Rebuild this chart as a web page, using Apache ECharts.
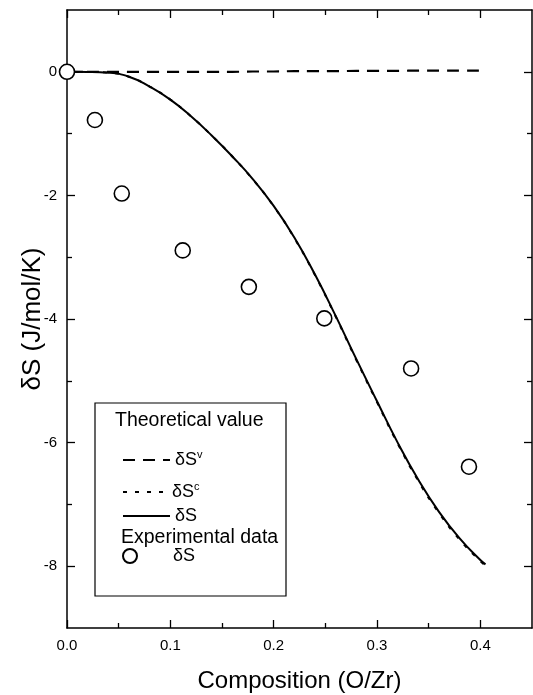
<!DOCTYPE html>
<html>
<head>
<meta charset="utf-8">
<script src="https://cdn.jsdelivr.net/npm/echarts@6/dist/echarts.min.js"></script>
<style>
html,body{margin:0;padding:0;background:#fff;}
#chart{width:533px;height:695px;}
</style>
</head>
<body>
<div id="chart"></div>
<script>
// ---- data ----
const compTheory = [0, 0.02, 0.04, 0.06, 0.08, 0.10, 0.12, 0.14, 0.16, 0.18, 0.20, 0.22, 0.24, 0.26, 0.28, 0.30, 0.32, 0.34, 0.36, 0.38, 0.40, 0.405];
const dSTotal   = [0, -0.002, -0.015, -0.08, -0.24, -0.45, -0.72, -1.03, -1.37, -1.74, -2.17, -2.68, -3.28, -3.95, -4.65, -5.33, -6.0, -6.6, -7.12, -7.55, -7.9, -7.97];
const dSConfig  = [0, -0.002, -0.015, -0.08, -0.24, -0.45, -0.72, -1.03, -1.37, -1.745, -2.175, -2.69, -3.29, -3.96, -4.665, -5.345, -6.015, -6.62, -7.14, -7.57, -7.92, -7.99];
const dSVib     = [0, 0, 0, 0, 0, 0, 0, 0, 0, 0.005, 0.005, 0.01, 0.01, 0.01, 0.015, 0.015, 0.015, 0.02, 0.02, 0.02, 0.02, 0.02];
const compExp   = [0, 0.027, 0.053, 0.112, 0.176, 0.249, 0.333, 0.389];
const dSExp     = [0, -0.78, -1.97, -2.89, -3.48, -3.99, -4.80, -6.39];
const xMajorTicks = [0, 0.1, 0.2, 0.3, 0.4];
const xMinorTicks = [0.05, 0.15, 0.25, 0.35];
const yMajorTicks = [0, -2, -4, -6, -8];
const yMinorTicks = [-1, -3, -5, -7];
const xTitle = 'Composition (O/Zr)';
const yTitle = 'δS (J/mol/K)';

const FONT = '"Liberation Sans", Arial, Helvetica, sans-serif';
const pair = (xs, ys) => xs.map((x, i) => [x, ys[i]]);

const chart = echarts.init(document.getElementById('chart'), null, {renderer: 'canvas'});

function xAx(pos, ticks, len, labels) {
  return {
    type: 'value', position: pos, min: 0, max: 0.45,
    axisLine: {show: ticks === xMajorTicks, onZero: false, lineStyle: {color: '#000', width: 1.5}},
    axisTick: {show: true, inside: true, length: len, customValues: ticks, lineStyle: {color: '#000', width: 1.3}},
    axisLabel: labels ? {show: true, customValues: xMajorTicks, formatter: v => v.toFixed(1), color: '#000', fontSize: 15, fontFamily: FONT, margin: 10} : {show: false},
    splitLine: {show: false},
    name: labels ? xTitle : '',
    nameLocation: 'middle', nameGap: 41, nameMoveOverlap: false,
    nameTextStyle: {fontSize: 24, color: '#000', fontFamily: FONT}
  };
}
function yAx(pos, ticks, len, labels) {
  return {
    type: 'value', position: pos, min: -9, max: 1,
    axisLine: {show: ticks === yMajorTicks, onZero: false, lineStyle: {color: '#000', width: 1.5}},
    axisTick: {show: true, inside: true, length: len, customValues: ticks, lineStyle: {color: '#000', width: 1.3}},
    axisLabel: labels ? {show: true, customValues: yMajorTicks, formatter: v => String(v), color: '#000', fontSize: 15, fontFamily: FONT, margin: 10} : {show: false},
    splitLine: {show: false},
    name: labels ? yTitle : '',
    nameLocation: 'middle', nameGap: 21, nameMoveOverlap: false,
    nameTextStyle: {fontSize: 26, color: '#000', fontFamily: FONT}
  };
}

const nameMap = {
  dSv: '{m|δS}{s|v}',
  dSc: '{m|δS}{s|c}',
  dS: '{m|δS}',
  dSexp: '{p|δS}'
};
const rich = {
  m: {fontSize: 18, fontFamily: FONT, color: '#000', lineHeight: 22},
  s: {fontSize: 11, fontFamily: FONT, color: '#000', lineHeight: 12, verticalAlign: 'top'},
  p: {fontSize: 18, fontFamily: FONT, color: '#000', lineHeight: 22, padding: [0, 0, 0, 31]}
};
function lg(name, left, top, w, hideSymbol) {
  const o = {
    data: [name], left: left, top: top, orient: 'vertical',
    itemWidth: w, itemHeight: 14, itemGap: 0, padding: 0,
    selectedMode: false,
    formatter: n => nameMap[n],
    textStyle: {rich: rich, color: '#000'}
  };
  if (hideSymbol) o.itemStyle = {opacity: 0};
  return o;
}

chart.setOption({
  animation: false,
  backgroundColor: '#fff',
  grid: {left: 67, right: 1, top: 10, bottom: 67, containLabel: false, outerBoundsMode: 'none'},
  xAxis: [xAx('bottom', xMajorTicks, 8, true), xAx('bottom', xMinorTicks, 5, false), xAx('top', xMajorTicks, 8, false), xAx('top', xMinorTicks, 5, false)],
  yAxis: [yAx('left', yMajorTicks, 8, true), yAx('left', yMinorTicks, 5, false), yAx('right', yMajorTicks, 8, false), yAx('right', yMinorTicks, 5, false)],
  legend: [
    lg('dSv', 122, 449, 47, true),
    lg('dSc', 122, 481, 44, true),
    lg('dS', 122, 507, 47, true),
    lg('dSexp', 122, 547, 14, false)
  ],
  graphic: [
    {type: 'rect', shape: {x: 95, y: 403, width: 191, height: 193}, style: {fill: 'none', stroke: '#000', lineWidth: 1.2}, z: 10},
    {type: 'text', left: 115, top: 411, style: {text: 'Theoretical value', fontSize: 19.5, fontFamily: FONT, fill: '#000'}, z: 10},
    {type: 'text', left: 121, top: 528, style: {text: 'Experimental data', fontSize: 19.5, fontFamily: FONT, fill: '#000'}, z: 10}
  ],
  series: [
    {name: 'dSv', type: 'line', data: pair(compTheory, dSVib), symbol: 'none', smooth: true,
     itemStyle: {color: '#000'}, lineStyle: {color: '#000', width: 2.2, type: [12, 8]}, z: 3},
    {name: 'dSc', type: 'line', data: pair(compTheory, dSConfig), symbol: 'none', smooth: true,
     itemStyle: {color: '#000'}, lineStyle: {color: '#000', width: 2, type: [4, 8]}, z: 2},
    {name: 'dS', type: 'line', data: pair(compTheory, dSTotal), symbol: 'none', smooth: true,
     itemStyle: {color: '#000'}, lineStyle: {color: '#000', width: 2}, z: 4},
    {name: 'dSexp', type: 'scatter', data: pair(compExp, dSExp), symbol: 'circle', symbolSize: 15,
     itemStyle: {color: '#fff', borderColor: '#000', borderWidth: 1.6, opacity: 1}, z: 5}
  ]
});
</script>
</body>
</html>
